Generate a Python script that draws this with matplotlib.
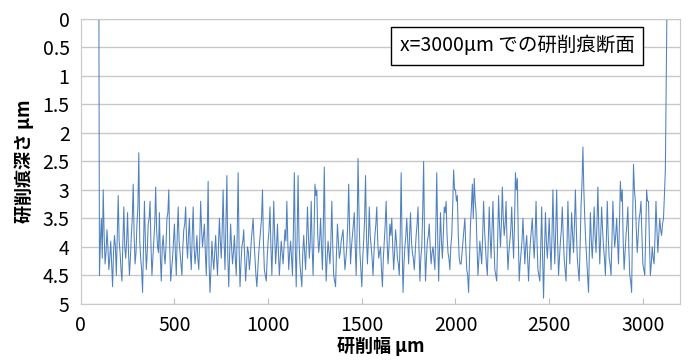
import matplotlib
matplotlib.use("Agg")
import matplotlib.pyplot as plt

plt.rcParams['font.family'] = ['Noto Sans CJK JP', 'DejaVu Sans']

# profile of the grinding mark at x=3000um
# main samples, every 10um from 100 to 3120
depth_a = [4.5, 3.5, 3.0, 4.3, 3.7, 4.4, 3.9, 4.7, 3.8, 4.5,
           3.1, 4.1, 4.6, 3.3, 4.2, 3.4, 4.5, 3.8, 2.9, 4.3,
           3.6, 2.35, 4.2, 4.8, 3.2, 4.4, 3.6, 3.2, 4.5, 3.9,
           2.95, 4.0, 3.4, 4.6, 3.8, 4.3, 3.5, 3.0, 4.6, 4.2,
           3.6, 4.5, 3.3, 4.1, 4.5, 3.7, 3.3, 4.2, 3.5, 4.4]
depth_b = [3.3, 4.3, 3.8, 4.4, 3.2, 4.0, 3.6, 4.5, 2.85, 4.8,
           3.9, 4.4, 3.8, 4.5, 3.5, 4.2, 3.0, 4.4, 2.75, 4.7,
           3.6, 4.3, 3.8, 4.5, 2.7, 4.7, 4.0, 3.7, 4.6, 4.0,
           4.4, 3.9, 3.5, 4.2, 4.7, 4.1, 3.7, 3.0, 4.4, 4.6,
           3.9, 3.3, 4.5, 3.2, 4.3, 3.6, 4.5, 3.9, 4.3, 3.7]
depth_c = [3.2, 4.4, 3.9, 4.5, 2.7, 4.7, 2.75, 4.3, 4.7, 3.8,
           4.4, 3.3, 4.2, 3.2, 4.5, 2.9, 3.0, 4.1, 3.5, 4.4,
           2.6, 4.6, 3.9, 4.3, 3.2, 4.5, 4.7, 3.6, 4.2, 3.9,
           3.7, 4.4, 4.0, 2.9, 4.3, 3.8, 3.4, 4.5, 2.45, 4.1,
           4.7, 3.9, 2.75, 4.3, 3.3, 4.0, 4.5, 3.8, 3.3, 4.2]
depth_d = [4.0, 4.7, 3.9, 3.2, 4.3, 3.6, 3.5, 4.4, 3.7, 4.2,
           4.5, 2.7, 4.8, 4.0, 3.5, 4.3, 3.4, 4.1, 4.4, 3.8,
           3.3, 4.6, 4.0, 2.5, 4.6, 3.9, 3.6, 4.3, 4.0, 4.4,
           2.7, 4.6, 3.4, 4.2, 3.3, 3.2, 4.1, 4.4, 3.8, 2.65,
           3.0, 3.1, 4.2, 4.3, 3.9, 3.5, 4.4, 4.8, 3.6, 2.9]
depth_e = [2.8, 3.4, 4.5, 3.9, 4.3, 3.2, 4.0, 4.5, 3.3, 4.2,
           3.2, 4.4, 4.6, 3.1, 4.0, 2.95, 3.8, 3.2, 4.4, 3.9,
           3.3, 4.2, 2.7, 2.8, 4.6, 4.1, 3.5, 4.3, 3.8, 4.6,
           3.9, 3.5, 4.2, 3.2, 4.4, 4.6, 3.3, 4.9, 3.4, 4.2,
           3.5, 4.4, 3.0, 4.3, 3.0, 4.5, 3.9, 3.3, 4.2, 4.6]
depth_f = [3.2, 4.3, 3.4, 4.1, 3.0, 4.2, 4.6, 3.3, 2.25, 3.5,
           4.2, 4.8, 3.4, 4.2, 3.3, 4.1, 2.95, 4.3, 3.3, 4.0,
           4.5, 3.2, 4.2, 4.5, 3.2, 4.0, 3.5, 4.3, 2.85, 3.0,
           4.4, 3.8, 3.3, 4.5, 4.8, 2.55, 3.2, 4.1, 3.5, 3.2,
           4.3, 4.5, 3.0, 3.2, 4.5, 4.0, 4.3, 3.2, 4.1, 3.5,
           3.8, 3.5, 2.65]

# in-between samples (105, 115, ... 3115)
mid_a = [3.9, 4.2, 3.8, 4.1, 4.0, 4.2, 4.3, 4.1, 4.0, 3.8,
         3.9, 4.4, 3.9, 4.0, 3.9, 4.1, 4.2, 3.5, 3.8, 4.1,
         3.3, 3.9, 4.4, 4.0, 3.9, 4.1, 3.5, 4.0, 4.2, 3.6,
         3.7, 4.1, 4.2, 4.0, 4.1, 4.0, 3.4, 4.0, 4.4, 3.9,
         4.1, 3.8, 3.9, 4.3, 4.0, 3.6, 3.9, 3.8, 4.1, 3.8]
mid_b = [4.0, 4.1, 4.2, 3.9, 3.7, 3.8, 4.1, 3.8, 4.3, 4.4,
         4.2, 4.1, 4.2, 4.0, 3.9, 3.7, 3.9, 3.6, 4.2, 4.1,
         4.0, 4.1, 4.2, 3.8, 4.0, 4.3, 3.9, 4.2, 4.3, 4.1,
         4.2, 3.7, 3.9, 4.5, 4.4, 3.9, 3.5, 3.9, 4.5, 4.2,
         3.7, 4.0, 3.9, 3.8, 4.0, 4.1, 4.2, 4.1, 4.0, 3.9]
mid_c = [3.9, 4.1, 4.2, 3.7, 4.0, 3.8, 3.9, 4.5, 4.1, 4.1,
         3.9, 3.8, 3.9, 4.0, 3.8, 3.1, 3.8, 3.9, 4.0, 3.6,
         4.0, 4.2, 4.1, 3.9, 4.0, 4.6, 4.1, 3.9, 4.1, 3.8,
         4.1, 4.2, 3.6, 3.7, 4.0, 3.6, 4.0, 3.7, 3.4, 4.4,
         4.2, 3.5, 3.8, 3.9, 3.8, 4.2, 4.1, 3.6, 3.9, 4.1]
mid_d = [4.4, 4.2, 3.6, 3.9, 4.0, 3.8, 4.0, 4.1, 3.9, 4.3,
         3.8, 3.9, 4.3, 3.8, 3.9, 3.8, 3.9, 4.2, 4.1, 3.6,
         4.0, 4.2, 3.4, 3.9, 4.2, 3.8, 4.0, 4.1, 4.2, 3.7,
         3.8, 4.0, 3.9, 3.8, 3.4, 3.8, 4.2, 4.0, 3.3, 3.0,
         3.2, 3.8, 4.3, 4.1, 3.7, 4.0, 4.5, 4.2, 3.3, 3.5]
mid_e = [3.2, 4.0, 4.2, 4.1, 3.8, 3.7, 4.3, 3.9, 3.8, 3.7,
         3.9, 4.5, 3.9, 3.6, 3.6, 3.5, 3.6, 3.9, 4.1, 3.7,
         3.8, 3.6, 3.0, 3.8, 4.3, 3.9, 3.9, 4.0, 4.2, 4.2,
         3.7, 3.9, 3.8, 3.9, 4.5, 4.0, 4.2, 4.1, 3.9, 3.9,
         4.0, 3.8, 3.8, 3.7, 3.9, 4.2, 3.7, 3.8, 4.4, 4.0]
mid_f = [3.8, 3.9, 3.8, 3.6, 3.7, 4.4, 4.0, 2.9, 3.0, 3.9,
         4.5, 4.0, 3.9, 3.8, 3.8, 3.6, 3.7, 3.8, 3.7, 4.2,
         3.9, 3.8, 4.3, 3.9, 3.7, 3.8, 3.9, 3.6, 3.2, 3.9,
         4.1, 3.6, 4.0, 4.6, 3.6, 3.0, 3.7, 3.8, 3.4, 3.8,
         4.4, 3.8, 3.2, 3.9, 4.3, 4.2, 3.8, 3.7, 3.8, 3.7,
         3.6, 3.1]

main = depth_a + depth_b + depth_c + depth_d + depth_e + depth_f
mids = mid_a + mid_b + mid_c + mid_d + mid_e + mid_f

profile = []
for i in range(len(mids)):
    profile.append(main[i])
    profile.append(mids[i])
profile.append(main[-1])

# edges of the mark rise back to the surface
width_um = [97] + list(range(100, 3121, 5)) + [3128]
depth_um = [0.0] + profile + [0.0]

x_ticks = [0, 500, 1000, 1500, 2000, 2500, 3000]
y_ticks = [0, 0.5, 1, 1.5, 2, 2.5, 3, 3.5, 4, 4.5, 5]
y_labels = ["0", "0.5", "1", "1.5", "2", "2.5", "3", "3.5", "4", "4.5", "5"]

fig = plt.figure(figsize=(6.9, 3.63), dpi=100)
ax = fig.add_axes([0.117, 0.163, 0.869, 0.785])

ax.plot(width_um, depth_um, color='#4f81bd', linewidth=0.75)

ax.set_xlim(0, 3200)
ax.set_ylim(5, 0)
ax.set_xticks(x_ticks)
ax.set_yticks(y_ticks)
ax.set_yticklabels(y_labels)
ax.tick_params(axis='x', direction='in', length=4, color='#bfbfbf', labelsize=14, pad=8)
ax.tick_params(axis='y', length=0, labelsize=14, pad=8)
ax.grid(axis='y', color='#c8c8c8', linewidth=1.0)
ax.set_axisbelow(True)
for s in ax.spines.values():
    s.set_color('#c8c8c8')

ax.set_xlabel('研削幅 μm', fontsize=13, fontweight='bold', labelpad=1)
ax.set_ylabel('研削痕深さ μm', fontsize=13, fontweight='bold', labelpad=6)

ax.text(0.728, 0.905, 'x=3000μm での研削痕断面', transform=ax.transAxes,
        ha='center', va='center', fontsize=14,
        bbox=dict(boxstyle='square,pad=0.45', facecolor='white', edgecolor='black', linewidth=1))

fig.savefig('out.png', dpi=100)
